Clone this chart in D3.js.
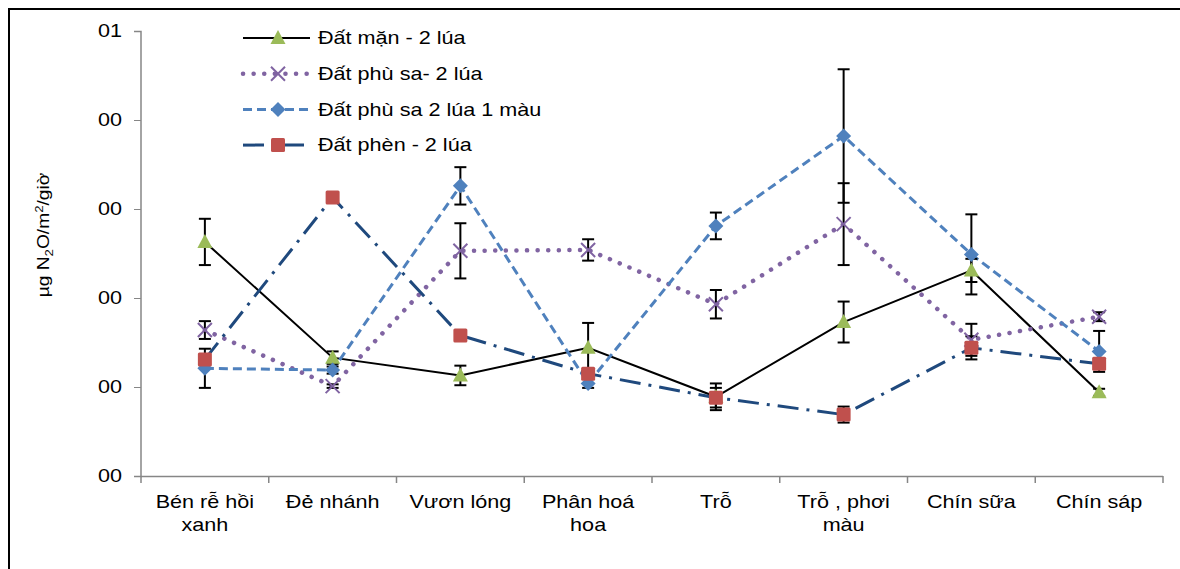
<!DOCTYPE html>
<html>
<head>
<meta charset="utf-8">
<script src="https://cdn.jsdelivr.net/npm/d3@7"></script>
<style>
  body { margin: 0; background: #fff; }
  svg { display: block; font-family: Arial, "Liberation Sans", sans-serif; }
  .axis path, .axis line { stroke: #868686; }
</style>
</head>
<body>
<svg id="chart" width="1180" height="569"></svg>
<script>
// stages (categories) on the x-axis
const categories = [
  ['Bén rễ hồi', 'xanh'], ['Đẻ nhánh'], ['Vươn lóng'], ['Phân hoá', 'hoa'],
  ['Trỗ'], ['Trỗ , phơi', 'màu'], ['Chín sữa'], ['Chín sáp']
];

// y tick labels, bottom to top (as printed in the source)
const tickLabels = ['00', '00', '00', '00', '00', '01'];

// series values (in tick units) and error half-widths
const datMan      = [2.63, 1.33, 1.13, 1.44, 0.89, 1.73, 2.31, 0.94];
const datManErr   = [0.26, 0.07, 0.11, 0.28, 0.15, 0.23, 0.13, 0.04];
const phuSa       = [1.64, 1.01, 2.53, 2.54, 1.93, 2.83, 1.53, 1.79];
const phuSaErr    = [0.10, 0.02, 0.31, 0.12, 0.16, 0.46, 0.18, 0.05];
const phuSaMau    = [1.21, 1.19, 3.26, 1.04, 2.81, 3.82, 2.49, 1.40];
const phuSaMauErr = [0.22, 0.04, 0.21, 0.05, 0.15, 0.75, 0.45, 0.23];
const datPhen     = [1.31, 3.13, 1.58, 1.15, 0.88, 0.69, 1.44, 1.26];
const datPhenErr  = [0.04, 0.03, 0.03, 0.03, 0.11, 0.09, 0.13, 0.03];

const series = [
  {name: 'Đất mặn - 2 lúa', values: datMan, err: datManErr, line: '#000000', width: 2, dash: null, cap: 'butt', marker: 'triangle', fill: '#9BBB59'},
  {name: 'Đất phù sa- 2 lúa', values: phuSa, err: phuSaErr, line: '#8064A2', width: 4.5, dash: '0.1 10.5', cap: 'round', marker: 'x', fill: '#8064A2'},
  {name: 'Đất phù sa 2 lúa 1 màu', values: phuSaMau, err: phuSaMauErr, line: '#4F81BD', width: 3, dash: '9 5', cap: 'butt', marker: 'diamond', fill: '#4F81BD'},
  {name: 'Đất phèn - 2 lúa', values: datPhen, err: datPhenErr, line: '#1F497D', width: 3, dash: '21 8 3 8', cap: 'butt', marker: 'square', fill: '#C0504D'}
];

const SX = 1.2; // source text is horizontally stretched
const svg = d3.select('#chart');

// outer frame (top and left edges visible)
svg.append('path').attr('d', 'M9,569 V9 H1180').attr('fill', 'none').attr('stroke', '#000').attr('stroke-width', 2);

const x = d3.scaleBand().domain(d3.range(categories.length)).range([141, 1163]);
const y = d3.scaleLinear().domain([0, 5]).range([476, 31]);

// y-axis
const yAxis = d3.axisLeft(y).tickValues(d3.range(6)).tickSize(7).tickFormat(d => tickLabels[d]);
svg.append('g').attr('class', 'axis').attr('transform', 'translate(141,0)').call(yAxis)
  .call(g => g.select('.domain').attr('d', 'M-7,31.5H0V476.5H-7').attr('stroke-width', 1.5))
  .call(g => g.selectAll('.tick text').attr('font-size', 18).attr('fill', '#000')
    .attr('x', null).attr('transform', `translate(-19,0) scale(${SX},1)`)
    .attr('font-family', 'Arial, "Liberation Sans", sans-serif'));

// x-axis with ticks on band boundaries
const xg = svg.append('g').attr('class', 'axis');
xg.append('line').attr('x1', 141).attr('x2', 1163).attr('y1', 476.5).attr('y2', 476.5).attr('stroke-width', 1.5);
xg.selectAll('.tk').data(d3.range(categories.length + 1)).join('line')
  .attr('x1', i => i < categories.length ? x(i) : x.range()[1])
  .attr('x2', i => i < categories.length ? x(i) : x.range()[1])
  .attr('y1', 476).attr('y2', 483).attr('stroke-width', 1.5);
xg.selectAll('text').data(categories).join('text')
  .attr('transform', (d, i) => `translate(${x(i) + x.bandwidth() / 2},508) scale(${SX},1)`)
  .attr('text-anchor', 'middle')
  .attr('font-size', 18)
  .attr('fill', '#000')
  .selectAll('tspan').data(d => d).join('tspan')
    .attr('x', 0)
    .attr('dy', (d, i) => i === 0 ? 0 : 23)
    .text(d => d);

// y-axis title
const yt = svg.append('text')
  .attr('transform', `translate(49,235) rotate(-90) scale(${SX},1)`)
  .attr('text-anchor', 'middle')
  .attr('font-size', 16)
  .attr('fill', '#000');
yt.append('tspan').text('µg N');
yt.append('tspan').attr('font-size', 11).attr('dy', 4).text('2');
yt.append('tspan').attr('dy', -4).text('O/m');
yt.append('tspan').attr('font-size', 11).attr('dy', -6).text('2');
yt.append('tspan').attr('dy', 6).text('/giờ');

const cx = i => x(i) + x.bandwidth() / 2;

function drawMarker(g, type, color) {
  if (type === 'triangle') g.append('path').attr('d', 'M0,-8L7.5,6H-7.5Z').attr('fill', color);
  if (type === 'square') g.append('rect').attr('x', -7).attr('y', -7).attr('width', 14).attr('height', 14).attr('rx', 1.5).attr('fill', color);
  if (type === 'diamond') g.append('path').attr('d', 'M0,-7.5L7.5,0L0,7.5L-7.5,0Z').attr('fill', color);
  if (type === 'x') g.append('path').attr('d', 'M-7,-7L7,7M-7,7L7,-7').attr('stroke', color).attr('stroke-width', 2).attr('fill', 'none');
}

// lines
const line = d3.line().x((d, i) => cx(i)).y(d => y(d));
series.forEach(s => {
  svg.append('path').datum(s.values).attr('d', line)
    .attr('fill', 'none').attr('stroke', s.line).attr('stroke-width', s.width)
    .attr('stroke-dasharray', s.dash).attr('stroke-linecap', s.cap);
});

// error bars
series.forEach(s => {
  const eg = svg.append('g').attr('stroke', '#000').attr('stroke-width', 2);
  s.values.forEach((v, i) => {
    const top = y(v + s.err[i]), bot = y(v - s.err[i]);
    eg.append('line').attr('x1', cx(i)).attr('x2', cx(i)).attr('y1', top).attr('y2', bot);
    eg.append('line').attr('x1', cx(i) - 6).attr('x2', cx(i) + 6).attr('y1', top).attr('y2', top);
    eg.append('line').attr('x1', cx(i) - 6).attr('x2', cx(i) + 6).attr('y1', bot).attr('y2', bot);
  });
});

// markers
series.forEach(s => {
  s.values.forEach((v, i) => {
    drawMarker(svg.append('g').attr('transform', `translate(${cx(i)},${y(v)})`), s.marker, s.fill);
  });
});

// legend
const lg = svg.append('g');
series.forEach((s, k) => {
  const ly = 38 + k * 35.7;
  lg.append('line').attr('x1', 243).attr('x2', 310).attr('y1', ly).attr('y2', ly)
    .attr('stroke', s.line).attr('stroke-width', s.width)
    .attr('stroke-dasharray', s.dash).attr('stroke-linecap', s.cap);
  drawMarker(lg.append('g').attr('transform', `translate(278,${ly})`), s.marker, s.fill);
  lg.append('text').attr('transform', `translate(318,${ly}) scale(${SX},1)`).attr('dy', '0.35em')
    .attr('font-size', 18).attr('fill', '#000').text(s.name);
});
</script>
</body>
</html>
